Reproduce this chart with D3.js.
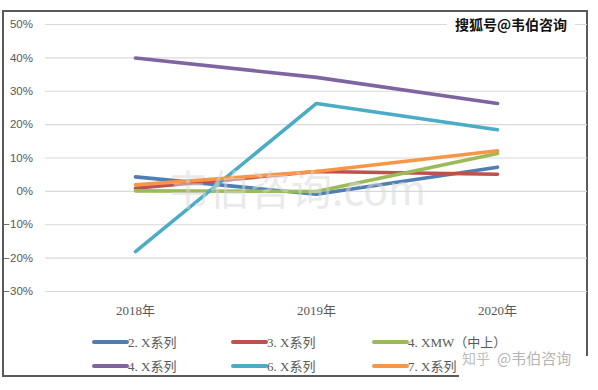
<!DOCTYPE html>
<html>
<head>
<meta charset="utf-8">
<script src="https://cdn.jsdelivr.net/npm/d3@7"></script>
<style>
  body { margin: 0; background: #fff; }
  svg { display: block; }
</style>
</head>
<body>
<svg id="chart" width="598" height="390"></svg>
<script>
// data
let years = ['2018年', '2019年', '2020年']
let seriesNames = ['2. X系列', '3. X系列', '4. XMW（中上）', '4. X系列', '6. X系列', '7. X系列']
let seriesColors = ['#4f7eb3', '#c0504d', '#9bbb59', '#8064a2', '#4bacc6', '#f79646']
let s2x = [0.042, -0.01, 0.071]
let s3x = [0.008, 0.058, 0.050]
let sXmw = [0.0, -0.002, 0.112]
let s4x = [0.398, 0.340, 0.262]
let s6x = [-0.182, 0.262, 0.183]
let s7x = [0.018, 0.058, 0.120]
let yTicks = [-0.3, -0.2, -0.1, 0, 0.1, 0.2, 0.3, 0.4, 0.5]

let allValues = [s2x, s3x, sXmw, s4x, s6x, s7x]

function main() {
    let svg = d3.select('#chart'),
        frame = {left: 3, top: 11, right: 587, bottom: 376},
        plot = {left: 45, right: 587, top: 24, bottom: 291}

    let sansFont = '"Liberation Sans", Arial, "Noto Sans CJK SC", sans-serif',
        serifFont = '"Liberation Serif", "Noto Sans CJK SC", serif'

    let x = d3.scalePoint().domain(years).range([plot.left, plot.left + 543]).padding(0.5)
    let y = d3.scaleLinear().domain([-0.3, 0.5]).range([plot.bottom, plot.top])

    // frame
    svg.append('rect')
        .attr('x', frame.left).attr('y', frame.top)
        .attr('width', frame.right - frame.left)
        .attr('height', frame.bottom - frame.top)
        .attr('fill', '#fff')
        .attr('stroke', '#5a5a5a')
        .attr('stroke-width', 2)

    // gridlines + y labels
    let yAxis = svg.append('g')
        .attr('transform', 'translate(' + plot.left + ',0)')
        .call(d3.axisLeft(y).tickValues(yTicks).tickFormat(d3.format('.0%'))
            .tickSize(-(plot.right - plot.left)).tickPadding(12))
    yAxis.select('.domain').remove()
    yAxis.selectAll('.tick line').attr('stroke', '#d9d9d9').attr('stroke-width', 1.2)
    yAxis.selectAll('.tick text')
        .attr('fill', '#595959')
        .attr('font-size', 11.5)
        .attr('font-family', sansFont)

    // x labels
    svg.append('g')
        .selectAll('text')
        .data(years)
        .enter()
        .append('text')
        .attr('x', d => x(d))
        .attr('y', 315)
        .attr('text-anchor', 'middle')
        .attr('font-size', 13)
        .attr('font-family', serifFont)
        .attr('fill', '#595959')
        .text(d => d)

    // lines
    let line = d3.line()
        .x((d, i) => x(years[i]))
        .y(d => y(d))

    svg.append('g')
        .selectAll('path')
        .data(allValues)
        .enter()
        .append('path')
        .attr('d', d => line(d))
        .attr('fill', 'none')
        .attr('stroke', (d, i) => seriesColors[i])
        .attr('stroke-width', 3.6)
        .attr('stroke-linecap', 'round')
        .attr('stroke-linejoin', 'round')

    // faint centre watermark, laid over the lines
    svg.append('text')
        .attr('x', 297).attr('y', 205)
        .attr('text-anchor', 'middle')
        .attr('font-size', 41)
        .attr('font-family', '"Noto Sans CJK SC", sans-serif')
        .attr('fill', '#d8d8d8')
        .attr('fill-opacity', 0.55)
        .text('韦伯咨询.com')

    // legend
    let legendCols = [94, 233, 374],
        legendRows = [342, 366]
    let legend = svg.append('g')
        .selectAll('g')
        .data(seriesNames)
        .enter()
        .append('g')
        .attr('transform', (d, i) => 'translate(' + legendCols[i % 3] + ',' + legendRows[Math.floor(i / 3)] + ')')
    legend.append('line')
        .attr('x1', 0).attr('x2', 33)
        .attr('stroke', (d, i) => seriesColors[i])
        .attr('stroke-width', 4)
        .attr('stroke-linecap', 'round')
    legend.append('text')
        .attr('x', 34)
        .attr('dy', '0.35em')
        .attr('font-size', 13)
        .attr('font-family', serifFont)
        .attr('fill', '#595959')
        .text(d => d)

    // bottom-right zhihu watermark patch
    svg.append('rect')
        .attr('x', 459).attr('y', 356)
        .attr('width', 131).attr('height', 24)
        .attr('fill', '#fff')
    svg.append('text')
        .attr('x', 462).attr('y', 364)
        .attr('font-size', 14)
        .attr('font-family', '"Noto Sans CJK SC", sans-serif')
        .attr('fill', '#bdbdbd')
        .text('知乎')
    svg.append('text')
        .attr('x', 497).attr('y', 364)
        .attr('font-size', 15)
        .attr('font-family', '"Noto Sans CJK SC", sans-serif')
        .attr('fill', '#b5b5b5')
        .text('@韦伯咨询')

    // top-right sohu watermark
    svg.append('rect')
        .attr('x', 447).attr('y', 15)
        .attr('width', 128).attr('height', 20)
        .attr('fill', '#fff')
    svg.append('text')
        .attr('x', 511).attr('y', 30)
        .attr('text-anchor', 'middle')
        .attr('font-size', 14)
        .attr('font-weight', 'bold')
        .attr('font-family', '"Noto Sans CJK SC", sans-serif')
        .attr('fill', '#111')
        .text('搜狐号@韦伯咨询')
}

main()
</script>
</body>
</html>
